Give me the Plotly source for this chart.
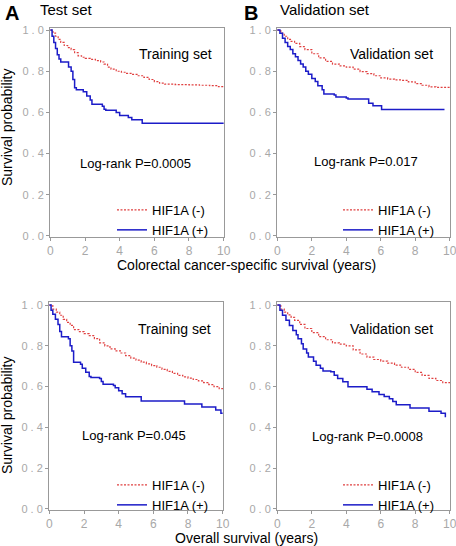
import plotly.graph_objects as go

# ---------------- data ----------------
# A: colorectal cancer-specific survival, training set
css_train_neg_t = [0, 0.15, 0.3, 0.45, 0.6, 0.8, 1.0, 1.2, 1.4, 1.6, 1.8, 2.0, 2.3, 2.6, 2.9, 3.1, 3.3, 3.5, 3.8, 4.1, 4.4, 4.7, 5.0, 5.4, 5.7, 6.0, 6.3, 6.6, 7.2, 8.0, 8.6, 9.2, 9.7, 10.0]
css_train_neg_s = [1.0, 0.985, 0.97, 0.955, 0.94, 0.925, 0.915, 0.905, 0.89, 0.875, 0.868, 0.862, 0.858, 0.852, 0.845, 0.835, 0.82, 0.81, 0.80, 0.795, 0.79, 0.785, 0.778, 0.77, 0.76, 0.75, 0.742, 0.737, 0.735, 0.734, 0.732, 0.73, 0.725, 0.725]
css_train_pos_t = [0, 0.1, 0.2, 0.3, 0.4, 0.5, 0.6, 1.05, 1.2, 1.3, 1.4, 1.5, 1.9, 2.1, 2.3, 2.4, 3.0, 3.1, 3.2, 3.8, 4.0, 4.5, 4.7, 5.3, 10.0]
css_train_pos_s = [1.0, 0.97, 0.94, 0.91, 0.88, 0.86, 0.845, 0.82, 0.80, 0.76, 0.72, 0.71, 0.70, 0.68, 0.66, 0.64, 0.63, 0.615, 0.61, 0.60, 0.585, 0.575, 0.565, 0.547, 0.547]

# B: colorectal cancer-specific survival, validation set
css_valid_neg_t = [0, 0.2, 0.4, 0.6, 0.8, 1.0, 1.3, 1.6, 2.0, 2.4, 2.8, 3.2, 3.6, 4.0, 4.4, 4.8, 5.2, 5.6, 6.0, 6.4, 6.8, 7.2, 7.6, 8.0, 8.4, 8.8, 9.2, 10.0]
css_valid_neg_s = [1.0, 0.985, 0.97, 0.955, 0.945, 0.935, 0.92, 0.905, 0.885, 0.865, 0.848, 0.835, 0.826, 0.82, 0.81, 0.798, 0.788, 0.778, 0.768, 0.762, 0.758, 0.756, 0.748, 0.74, 0.732, 0.724, 0.722, 0.722]
css_valid_pos_t = [0, 0.15, 0.3, 0.45, 0.6, 0.75, 0.9, 1.05, 1.2, 1.35, 1.5, 1.65, 1.8, 2.0, 2.2, 2.35, 2.6, 2.7, 3.3, 3.4, 4.0, 4.1, 5.2, 5.3, 5.55, 6.05, 9.7]
css_valid_pos_s = [1.0, 0.985, 0.96, 0.94, 0.92, 0.905, 0.885, 0.87, 0.852, 0.835, 0.82, 0.8, 0.785, 0.765, 0.75, 0.73, 0.71, 0.69, 0.685, 0.675, 0.67, 0.665, 0.665, 0.645, 0.632, 0.614, 0.614]

# A: overall survival, training set
os_train_neg_t = [0, 0.2, 0.4, 0.6, 0.8, 1.0, 1.2, 1.4, 1.7, 2.0, 2.3, 2.6, 2.9, 3.2, 3.5, 3.8, 4.1, 4.4, 4.7, 5.0, 5.3, 5.6, 5.9, 6.2, 6.5, 6.8, 7.1, 7.4, 7.7, 8.0, 8.3, 8.6, 8.9, 9.2, 9.5, 9.8, 10.0]
os_train_neg_s = [1.0, 0.98, 0.965, 0.95, 0.93, 0.915, 0.9, 0.88, 0.87, 0.86, 0.85, 0.835, 0.815, 0.8, 0.785, 0.775, 0.765, 0.752, 0.74, 0.73, 0.72, 0.712, 0.703, 0.695, 0.685, 0.675, 0.665, 0.655, 0.648, 0.642, 0.635, 0.628, 0.62, 0.61, 0.6, 0.59, 0.585]
os_train_pos_t = [0, 0.1, 0.2, 0.35, 0.5, 0.6, 0.7, 1.1, 1.2, 1.3, 1.4, 1.8, 1.9, 2.1, 2.3, 2.4, 2.9, 3.0, 3.1, 3.7, 3.8, 4.0, 4.2, 4.4, 5.3, 7.8, 8.8, 9.6, 9.9, 10.0]
os_train_pos_s = [1.0, 0.975, 0.955, 0.93, 0.905, 0.87, 0.845, 0.835, 0.8, 0.775, 0.72, 0.71, 0.69, 0.67, 0.65, 0.645, 0.64, 0.625, 0.612, 0.605, 0.595, 0.58, 0.565, 0.55, 0.53, 0.515, 0.5, 0.485, 0.47, 0.47]

# B: overall survival, validation set
os_valid_neg_t = [0, 0.2, 0.4, 0.6, 0.8, 1.0, 1.3, 1.6, 2.0, 2.4, 2.8, 3.2, 3.6, 4.0, 4.4, 4.8, 5.2, 5.6, 6.0, 6.4, 6.8, 7.2, 7.6, 8.0, 8.4, 8.8, 9.2, 9.6, 10.0]
os_valid_neg_s = [1.0, 0.98, 0.965, 0.952, 0.94, 0.925, 0.905, 0.885, 0.865, 0.845, 0.83, 0.815, 0.808, 0.8, 0.78, 0.76, 0.745, 0.733, 0.725, 0.715, 0.705, 0.695, 0.685, 0.67, 0.655, 0.64, 0.63, 0.62, 0.615]
os_valid_pos_t = [0, 0.15, 0.3, 0.5, 0.7, 0.9, 1.1, 1.2, 1.4, 1.5, 1.7, 1.8, 2.1, 2.25, 2.5, 2.65, 3.1, 3.3, 3.5, 3.8, 4.1, 5.2, 5.5, 5.9, 6.2, 6.5, 6.7, 6.9, 7.7, 8.8, 9.5, 9.75]
os_valid_pos_s = [1.0, 0.975, 0.95, 0.925, 0.9, 0.875, 0.855, 0.835, 0.81, 0.785, 0.765, 0.745, 0.725, 0.705, 0.69, 0.677, 0.673, 0.656, 0.64, 0.624, 0.6, 0.587, 0.575, 0.562, 0.552, 0.54, 0.527, 0.511, 0.495, 0.479, 0.47, 0.45]

series_names = ["HIF1A (-)", "HIF1A (+)"]
panel_sets = ["Training set", "Validation set", "Training set", "Validation set"]
pvalues = ["Log-rank P=0.0005", "Log-rank P=0.017", "Log-rank P=0.045", "Log-rank P=0.0008"]
x_ticks = [0, 2, 4, 6, 8, 10]
x_ticktext = ["0", "2", "4", "6", "8", "10"]
y_ticks = [0.0, 0.2, 0.4, 0.6, 0.8, 1.0]
y_ticktext = ["0 . 0", "0 . 2", "0 . 4", "0 . 6", "0 . 8", "1 . 0"]

# ---------------- figure ----------------
W, H = 456, 546
RED = "#e04040"
BLUE = "#1c1cc8"
FONT = "Liberation Sans, Arial, sans-serif"

def px_x(p):
    return p / W

def px_y(p):
    return 1 - p / H

panels = [
    # (neg_t, neg_s, pos_t, pos_s, x-px range, y-px range (top,bottom), yrange)
    (css_train_neg_t, css_train_neg_s, css_train_pos_t, css_train_pos_s, (50, 224), (28, 237), [-0.005, 1.01]),
    (css_valid_neg_t, css_valid_neg_s, css_valid_pos_t, css_valid_pos_s, (277, 450), (28, 237), [-0.005, 1.01]),
    (os_train_neg_t, os_train_neg_s, os_train_pos_t, os_train_pos_s, (49, 223), (302, 510), [-0.005, 1.015]),
    (os_valid_neg_t, os_valid_neg_s, os_valid_pos_t, os_valid_pos_s, (277, 450), (302, 510), [-0.005, 1.015]),
]
legend_pos = [(112, 195), (338, 195), (112, 470), (338, 470)]
set_pos = [(0.724, 0.876), (0.662, 0.876), (0.724, 0.870), (0.662, 0.870)]
p_pos = [(0.494, 0.354), (0.512, 0.359), (0.489, 0.356), (0.526, 0.351)]

fig = go.Figure()
layout = dict(
    width=W, height=H,
    margin=dict(l=0, r=0, t=0, b=0, autoexpand=False),
    paper_bgcolor="white", plot_bgcolor="white",
    font=dict(family=FONT, size=13, color="black"),
    annotations=[], showlegend=True,
)

for i, (nt, ns, pt, ps, xr, yr, yrange) in enumerate(panels):
    k = "" if i == 0 else str(i + 1)
    leg = "legend" + k
    fig.add_trace(go.Scatter(x=nt, y=ns, mode="lines", line=dict(color=RED, width=1.2, dash="2px,1.5px", shape="hv"),
                             name=series_names[0], xaxis="x" + k, yaxis="y" + k, legend=leg))
    fig.add_trace(go.Scatter(x=pt, y=ps, mode="lines", line=dict(color=BLUE, width=1.5, shape="hv"),
                             name=series_names[1], xaxis="x" + k, yaxis="y" + k, legend=leg))
    layout["xaxis" + k] = dict(
        domain=[px_x(xr[0]), px_x(xr[1])], anchor="y" + k, range=[-0.02, 10.02], automargin=False,
        tickvals=x_ticks, ticktext=x_ticktext, ticks="outside", ticklen=3, tickcolor="#999",
        ticklabeloverflow="allow",
        tickfont=dict(size=12, color="#a8a8a8", family=FONT), showgrid=False, zeroline=False,
        showline=True, linecolor="#999", linewidth=1, mirror=True,
    )
    layout["yaxis" + k] = dict(
        domain=[px_y(yr[1]), px_y(yr[0])], anchor="x" + k, range=yrange, automargin=False,
        tickvals=y_ticks, ticktext=y_ticktext, ticks="outside", ticklen=3, tickcolor="#999",
        ticklabeloverflow="allow",
        tickfont=dict(size=11, color="#a8a8a8", family=FONT), showgrid=False, zeroline=False,
        showline=True, linecolor="#999", linewidth=1, mirror=True,
    )
    lx, ly = legend_pos[i]
    layout[leg] = dict(x=px_x(lx), y=px_y(ly), xanchor="left", yanchor="top",
                       bgcolor="rgba(0,0,0,0)", font=dict(size=13, family=FONT),
                       itemwidth=30, tracegroupgap=0)
    layout["annotations"].append(dict(text=panel_sets[i], x=set_pos[i][0], y=set_pos[i][1],
                                      xref="x" + k + " domain", yref="y" + k + " domain",
                                      xanchor="center", yanchor="middle",
                                      showarrow=False, font=dict(size=14)))
    layout["annotations"].append(dict(text=pvalues[i], x=p_pos[i][0], y=p_pos[i][1],
                                      xref="x" + k + " domain", yref="y" + k + " domain",
                                      xanchor="center", yanchor="middle",
                                      showarrow=False, font=dict(size=13)))

# panel letters and titles
def ann(text, xp, yp, size, bold=False, angle=0, xanchor="center"):
    layout["annotations"].append(dict(
        text=("<b>%s</b>" % text) if bold else text, x=px_x(xp), y=px_y(yp), xref="paper", yref="paper",
        showarrow=False, font=dict(size=size), textangle=angle, xanchor=xanchor, yanchor="middle"))

ann("A", 12, 13, 20, bold=True)
ann("Test set", 38, 9, 15, xanchor="left")
ann("B", 251, 13, 20, bold=True)
ann("Validation set", 278, 9, 15, xanchor="left")
ann("Survival probability", 7, 127, 14, angle=-90)
ann("Survival probability", 7, 415, 14, angle=-90)
ann("Colorectal cancer-specific survival (years)", 246, 265, 14)
ann("Overall survival (years)", 247, 538, 14)

fig.update_layout(**layout)
fig.write_html("out.html", config={"displayModeBar": False},
               post_script="document.body.style.margin='0px';")
